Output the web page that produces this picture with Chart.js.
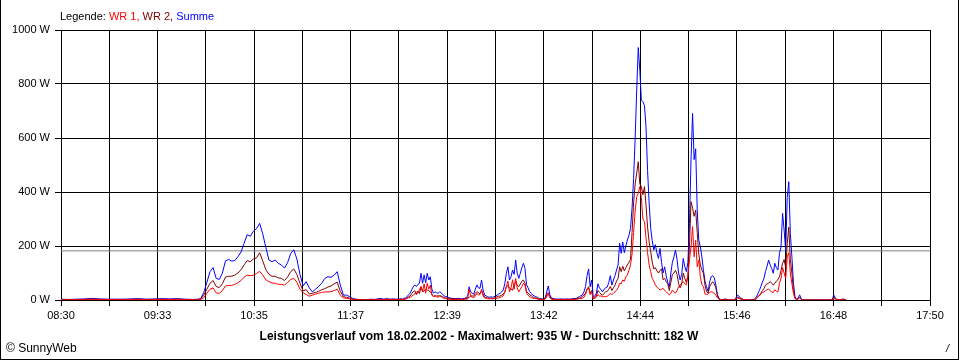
<!DOCTYPE html>
<html>
<head>
<meta charset="utf-8">
<script src="https://cdn.jsdelivr.net/npm/chart.js@4.4.1/dist/chart.umd.min.js"></script>
<style>
html,body{margin:0;padding:0;background:#fff;}
#wrap{position:relative;width:960px;height:360px;overflow:hidden;font-family:"Liberation Sans",Arial,sans-serif;font-size:11px;color:#000;}
#c{position:absolute;left:0;top:0;}
.t{position:absolute;white-space:nowrap;line-height:13px;}
#frame{position:absolute;left:0;top:0;width:959px;height:360px;box-sizing:border-box;border-left:1px solid #000;border-right:1px solid #000;border-bottom:1px solid #000;pointer-events:none;}
</style>
</head>
<body>
<div id="wrap">
<canvas id="c" width="960" height="360"></canvas>
<div class="t" style="left:60px;top:10px;">Legende: <span style="color:#ff0000">WR 1,</span> <span style="color:#800000">WR 2,</span> <span style="color:#0000ff">Summe</span></div>
<div class="t" style="left:0;width:958px;text-align:center;top:330px;font-weight:bold;font-size:12px;">Leistungsverlauf vom 18.02.2002 - Maximalwert: 935 W - Durchschnitt: 182 W</div>
<div class="t" style="left:6px;top:342px;font-size:12px;">© SunnyWeb</div>
<div class="t" style="left:946px;top:342px;font-style:italic;">/</div>
<div id="frame"></div>
</div>
<script>
// minutes after 08:30
const times = [
0,5,10,15,20,25,30,35,40,45,50,55,60,65,70,75,80,85,88,
90,92,94,96,98,100,102,104,106,108,110,112,114,116,118,120,122,124,126,128,130,132,134,136,138,140,142,144,146,148,150,152,154,156,158,160,162,164,166,168,170,172,174,176,178,180,182,184,186,188,190,
192,194,196,198,200,202,204,206,208,210,212,214,216,
218,219,220,221,222,223,224,225,226,227,228,229,230,231,232,233,234,235,236,237,238,239,240,241,242,243,244,245,246,247,248,249,250,
252,254,256,258,260,262,
263,264,265,266,267,268,269,270,271,272,273,274,275,276,277,278,279,280,
281,282,283,284,285,286,287,288,289,290,291,292,293,294,295,296,297,298,299,300,301,302,303,304,305,306,307,308,309,310,
311,312,313,314,315,316,318,320,322,324,326,328,330,332,334,
335,336,337,338,339,340,341,342,343,344,345,346,347,348,349,350,351,352,353,354,355,356,357,358,359,360,361,362,363,364,365,366,367,368,369,370,371,372,373,374,375,376,377,378,379,380,381,382,383,384,385,386,387,388,389,390,391,392,393,394,395,396,397,398,399,400,401,402,403,404,
405,406,407,408,409,410,411,412,413,414,415,416,417,418,419,420,421,422,423,424,425,
426,428,430,432,434,436,438,440,442,444,446,
447,448,449,450,451,452,453,454,455,456,457,458,459,460,461,462,463,464,465,466,467,468,469,470,471,472,473,474,475,476,477,478,
480,485,490,495,497,498,499,500,502,504,506
];
const summe = [
3,2,3,4,6,4,3,3,3,4,5,3,4,5,4,5,3,2,3,
5,28,65,105,120,80,76,100,145,150,144,146,160,178,210,242,236,255,264,284,245,195,148,142,148,136,130,118,138,172,186,152,95,52,68,45,30,40,50,62,80,86,84,92,105,55,18,18,12,6,3,
2,1,0,2,3,2,4,6,3,5,3,4,3,
4,5,3,6,8,12,20,25,38,49,56,50,58,62,99,62,93,64,99,74,86,40,25,31,27,25,30,27,20,15,12,12,8,
6,5,6,4,6,12,
49,30,25,22,40,56,45,43,74,37,18,15,12,10,12,10,12,15,
18,22,25,30,37,60,99,123,74,86,111,95,148,99,80,99,120,136,117,56,45,31,25,18,15,12,10,6,5,4,
4,8,30,52,20,8,4,3,4,3,4,3,5,6,12,
16,18,30,50,90,115,49,74,10,15,25,60,45,38,30,40,45,48,65,90,55,74,90,111,130,210,173,215,175,200,222,240,265,340,450,600,778,935,850,740,735,720,640,480,360,265,220,185,205,175,154,191,140,100,123,90,65,49,100,140,160,185,150,100,74,95,154,123,105,140,
284,519,691,520,560,333,222,197,160,110,70,49,31,68,86,90,82,55,20,6,2,
1,4,0,0,0,18,8,0,0,0,2,
3,10,22,35,50,66,80,105,125,148,130,117,99,136,120,111,173,197,321,259,182,380,438,247,160,62,12,2,8,19,4,0,
0,0,0,0,2,18,8,2,0,4,0
];
const wr2 = [
2,1,2,2,3,2,2,2,2,2,3,2,2,3,2,3,2,1,2,
3,18,40,62,72,50,46,60,85,88,88,92,100,112,130,146,142,152,156,175,145,112,95,88,88,82,80,72,85,105,115,95,62,34,38,22,25,28,32,38,42,48,52,60,66,32,12,10,7,3,2,
1,1,0,1,2,1,2,3,2,3,2,2,2,
2,3,2,3,5,7,12,15,24,31,34,20,33,24,49,32,33,39,37,34,31,22,13,16,15,15,16,15,12,9,7,8,5,
4,3,4,2,4,7,
9,15,15,14,25,31,27,23,34,22,10,9,7,6,7,6,7,9,
12,14,15,18,22,30,49,53,44,41,36,55,68,54,50,59,70,74,62,31,27,19,16,11,9,7,6,3,3,2,
3,5,18,27,12,5,3,2,2,2,2,2,3,4,7,
10,12,18,25,40,45,25,35,5,8,15,35,28,22,18,25,30,32,40,50,35,45,55,70,80,123,105,125,108,120,130,140,150,250,360,430,470,512,430,420,390,420,350,270,215,180,140,115,120,108,100,110,115,75,80,68,60,35,65,95,100,110,95,60,45,60,100,80,65,90,
200,364,340,310,333,250,170,130,111,99,55,31,25,49,60,68,60,45,15,4,1,
1,2,0,0,0,10,5,0,0,0,1,
2,5,12,18,25,35,42,55,60,62,68,62,55,62,70,75,86,110,136,150,120,210,270,150,100,35,7,1,5,10,2,0,
0,0,0,0,1,10,5,1,0,2,0
];
const wr1 = [
1,1,1,2,3,2,1,1,1,2,2,1,2,2,2,2,1,1,1,
2,9,25,40,45,26,25,35,52,54,54,58,64,72,85,92,90,92,98,106,93,75,68,63,62,58,58,55,65,76,80,66,40,27,20,14,18,22,25,28,30,30,31,35,40,17,8,6,4,2,1,
1,0,0,1,1,1,2,2,1,2,1,2,1,
1,2,1,2,3,5,8,10,14,18,22,30,25,38,50,30,60,25,62,40,55,18,12,15,12,10,14,12,8,6,5,4,3,
2,2,2,2,2,4,
40,15,10,8,15,25,18,20,40,15,8,6,5,4,5,4,5,6,
6,8,10,12,15,30,50,70,30,45,75,40,80,45,30,40,50,62,55,25,18,12,9,7,6,5,4,3,2,2,
1,3,12,25,8,3,1,1,2,1,2,1,2,2,5,
5,6,10,20,40,50,20,30,4,6,10,20,15,15,12,13,12,14,18,25,20,25,30,37,45,62,60,74,70,85,93,110,130,170,250,330,383,395,420,380,300,290,230,175,130,105,80,70,55,48,42,37,40,43,35,31,25,18,25,37,30,25,35,50,56,62,68,60,56,90,
148,197,272,160,222,123,148,86,56,50,22,20,22,28,31,28,25,18,8,3,1,
0,2,0,0,0,8,3,0,0,0,1,
1,4,10,15,22,28,30,35,38,40,35,30,28,38,32,30,62,80,120,100,80,160,175,100,60,25,5,1,3,8,2,0,
0,0,0,0,1,6,3,1,0,2,0
];
const avgValue = 182;
const xTickLabels = ['08:30','09:33','10:35','11:37','12:39','13:42','14:44','15:46','16:48','17:50'];
const xMax = 560;          // 08:30 .. 17:50 in minutes
const xGridCount = 18;     // gridlines between labels
const yMax = 1000, yStep = 200;

const FONT = {family: '"Liberation Sans", Arial, sans-serif', size: 11};
const pts = arr => times.map((t, i) => ({x: t, y: arr[i]}));
const common = {borderWidth: 1, pointRadius: 0, tension: 0, fill: false};

new Chart(document.getElementById('c'), {
  type: 'line',
  data: {
    datasets: [
      Object.assign({label: 'WR 1', data: pts(wr1), borderColor: '#ff0000'}, common),
      Object.assign({label: 'WR 2', data: pts(wr2), borderColor: '#800000'}, common),
      Object.assign({label: 'Summe', data: pts(summe), borderColor: '#0000ff'}, common),
      Object.assign({label: 'Durchschnitt', data: [{x: 0, y: avgValue}, {x: xMax, y: avgValue}], borderColor: '#808080'}, common)
    ]
  },
  options: {
    responsive: false,
    animation: false,
    devicePixelRatio: 1,
    events: [],
    layout: {padding: {left: 0, top: 30, right: 30, bottom: 0}},
    plugins: {legend: {display: false}, tooltip: {enabled: false}, title: {display: false}},
    scales: {
      x: {
        type: 'linear', min: 0, max: xMax, z: 1,
        afterBuildTicks: s => { s.ticks = Array.from({length: xGridCount + 1}, (_, i) => ({value: i * xMax / xGridCount})); },
        afterFit: s => { s.height = 60; },
        ticks: {autoSkip: false, maxRotation: 0, minRotation: 0, padding: 3, color: '#000', font: FONT,
          callback: (v, i) => (i % 2 === 0 ? xTickLabels[i / 2] : '')},
        grid: {color: '#000', lineWidth: 1, drawTicks: true, tickLength: 6, tickColor: '#000'},
        border: {color: '#000', width: 1}
      },
      y: {
        min: 0, max: yMax, z: 1,
        afterFit: s => { s.width = 61; },
        ticks: {stepSize: yStep, padding: 5, color: '#000', font: FONT, callback: v => v + ' W'},
        grid: {color: '#000', lineWidth: 1, drawTicks: true, tickLength: 6, tickColor: '#000'},
        border: {color: '#000', width: 1}
      }
    }
  }
});
</script>
</body>
</html>
